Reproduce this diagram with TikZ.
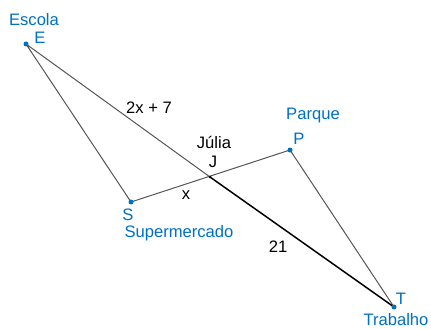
\documentclass[tikz,border=0pt]{standalone}
\usepackage{fontspec}
\setmainfont{Liberation Sans}
\definecolor{mapblue}{RGB}{0,112,192}
\definecolor{routegray}{RGB}{85,85,85}
\begin{document}
\begin{tikzpicture}[x=1pt,y=-1pt,
    txt/.style={font=\fontsize{16.6}{18}\selectfont, inner sep=0pt},
    place/.style={txt, text=mapblue},
    dot/.style={circle, fill=mapblue, inner sep=0pt, minimum size=5pt}]
  \useasboundingbox (0,0) rectangle (431,329);
  \coordinate (E) at (26,44);
  \coordinate (S) at (131,202);
  \coordinate (J) at (210,177);
  \coordinate (P) at (290,150);
  \coordinate (T) at (394,307);

  % the two triangles
  \draw [routegray, line width=1pt] (E) -- (S) -- (P) -- (T)
                                    (E) -- (J);
  \draw [black, line width=1.5pt] (J) -- (T);

  % the places
  \foreach \p in {E,S,P,T}
    \node[dot] at (\p) {};
  \fill (J) circle (1.3pt);

  \node[place] (escola) at (34,20) {Escola};
  \node[place] (lblE) at (40,38) {E};
  \node[place] (lblS) at (128,215) {S};
  \node[place] (supermercado) at (179,233) {Supermercado};
  \node[place] (parque) at (313,116) {Parque};
  \node[place] (lblP) at (299,139) {P};
  \node[place] (lblT) at (401,299) {T};
  \node[place] (trabalho) at (396,320) {Trabalho};

  \node[txt] (julia) at (214,142) {Júlia};
  \node[txt] (lblJ) at (213,162) {J};
  \node[txt] (EJ) at (149,108) {2x + 7};
  \node[txt] (SJ) at (186,195) {x};
  \node[txt] (JT) at (278,247) {21};
\end{tikzpicture}
\end{document}
